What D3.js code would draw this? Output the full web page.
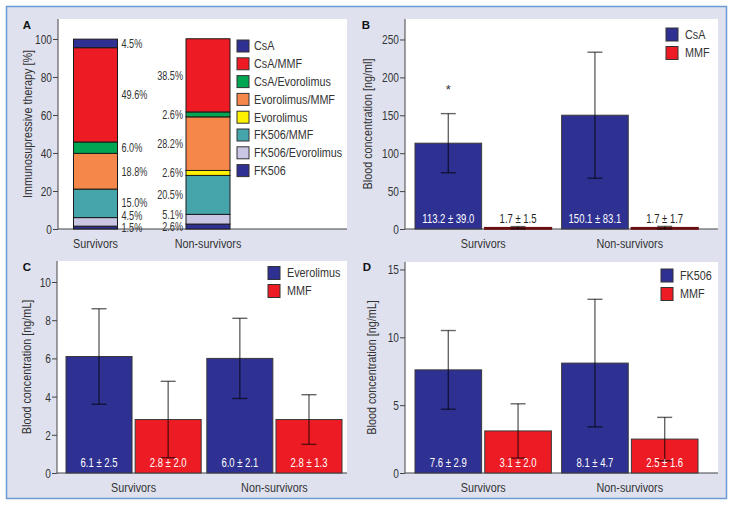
<!DOCTYPE html>
<html><head><meta charset="utf-8">
<script src="https://cdn.jsdelivr.net/npm/d3@7/dist/d3.min.js"></script>
<style>
body{margin:0;background:#fff;}
svg text{font-family:"Liberation Sans",Arial,sans-serif;fill:#333;}
</style></head>
<body><svg id="c" width="736" height="506"></svg>
<script>
// ---------- DATA ----------
const groups = ["Survivors", "Non-survivors"];
const therapies = ["CsA", "CsA/MMF", "CsA/Evorolimus", "Evorolimus/MMF", "Evorolimus", "FK506/MMF", "FK506/Evorolimus", "FK506"];
const therapyColors = ["#2e3192", "#ed1c24", "#00a651", "#f5874b", "#fff200", "#45a5ab", "#c9c7e3", "#2e3192"];
const survivorsPct = [4.5, 49.6, 6.0, 18.8, 0, 15.0, 4.5, 1.5];
const nonSurvivorsPct = [0, 38.5, 2.6, 28.2, 2.6, 20.5, 5.1, 2.6];
const ticksA = [0, 20, 40, 60, 80, 100];

const seriesB = ["CsA", "MMF"];
const csaMean = [113.2, 150.1], csaSD = [39.0, 83.1];
const mmfBMean = [1.7, 1.7], mmfBSD = [1.5, 1.7];
const starB = [["*", ""], ["", ""]];
const ticksB = [0, 50, 100, 150, 200, 250];

const seriesC = ["Everolimus", "MMF"];
const everoMean = [6.1, 6.0], everoSD = [2.5, 2.1];
const mmfCMean = [2.8, 2.8], mmfCSD = [2.0, 1.3];
const ticksC = [0, 2, 4, 6, 8, 10];

const seriesD = ["FK506", "MMF"];
const fkMean = [7.6, 8.1], fkSD = [2.9, 4.7];
const mmfDMean = [3.1, 2.5], mmfDSD = [2.0, 1.6];
const ticksD = [0, 5, 10, 15];

const barColors = ["#2e3192", "#ed1c24"];

// ---------- DRAW ----------
const svg = d3.select("#c");
svg.append("rect").attr("x", 6.5).attr("y", 6.5).attr("width", 720).attr("height", 492)
  .attr("fill", "#dfe1ef").attr("stroke", "#6c9bd3").attr("stroke-width", 1.5);

// condensed text helper
function T(x, y, str, size, anchor, sx, rot) {
  return svg.append("text")
    .attr("transform", `translate(${x},${y})${rot ? " rotate(" + rot + ")" : ""} scale(${sx || 0.8},1)`)
    .attr("text-anchor", anchor || "start").attr("dominant-baseline", "central")
    .attr("font-size", size).text(str);
}

function frame(p) {
  svg.append("rect").attr("x", p.x0).attr("y", p.y0).attr("width", p.x1 - p.x0).attr("height", p.y1 - p.y0).attr("fill", "#fff");
  const y = d3.scaleLinear().domain([0, p.max]).range([p.y1, p.y0]);
  const ax = svg.append("g").attr("transform", `translate(${p.x0},0)`)
    .call(d3.axisLeft(y).tickValues(p.ticks).tickSize(5).tickPadding(2).tickFormat(d3.format("d")));
  ax.select(".domain").remove();
  ax.selectAll(".tick line").attr("stroke", "#444");
  ax.selectAll(".tick text").attr("font-size", 13.5).attr("fill", "#333")
    .style("font-family", '"Liberation Sans",Arial,sans-serif')
    .attr("x", 0).attr("dy", null).attr("dominant-baseline", "central")
    .attr("transform", "translate(-6,0) scale(0.75,1)");
  svg.append("line").attr("x1", p.x0).attr("x2", p.x0).attr("y1", p.y0).attr("y2", p.y1).attr("stroke", "#444");
  svg.append("line").attr("x1", p.x0).attr("x2", p.x1).attr("y1", p.y1).attr("y2", p.y1).attr("stroke", "#444").attr("stroke-width", 1.2);
  svg.append("text").attr("x", p.lx).attr("y", p.ly).attr("font-size", 11.5).attr("font-weight", "bold")
    .attr("text-anchor", "middle").attr("dominant-baseline", "central").style("fill", "#111").text(p.letter);
  T(p.tx, (p.y0 + p.y1) / 2, p.title, 13.5, "middle", 0.8, -90);
  return y;
}

// ----- Panel A -----
(function () {
  const p = {x0: 58, x1: 347, y0: 19, y1: 229, max: 110.5, ticks: ticksA, letter: "A", lx: 27, ly: 25, tx: 28, title: "Immunosupressive therapy [%]"};
  const y = frame(p);
  const x = d3.scalePoint().domain(groups).range([95.5, 208]);
  const bw = 44;
  const data = [survivorsPct, nonSurvivorsPct];
  data.forEach((vals, gi) => {
    const cx = x(groups[gi]);
    let cum = 0;
    const segs = [];
    for (let i = therapies.length - 1; i >= 0; i--) {
      const v = vals[i];
      segs.push({i, v, lo: cum, hi: cum + v});
      cum += v;
    }
    segs.filter(s => s.v > 0).forEach(s => {
      svg.append("rect").attr("x", cx - bw / 2).attr("width", bw)
        .attr("y", y(s.hi)).attr("height", y(s.lo) - y(s.hi))
        .attr("fill", therapyColors[s.i]).attr("stroke", "#1a1a1a").attr("stroke-width", 1);
    });
    let prev = Infinity;
    segs.filter(s => s.v > 0).forEach(s => {
      let ly = y((s.lo + s.hi) / 2);
      if (ly > prev - 12.5) ly = prev - 12.5;
      prev = ly;
      T(gi === 0 ? cx + bw / 2 + 4 : cx - bw / 2 - 3, ly, s.v.toFixed(1) + "%", 12,
        gi === 0 ? "start" : "end", 0.76);
    });
    T(cx, p.y1 + 15, groups[gi], 13.5, "middle", 0.8);
  });
  therapies.forEach((t, i) => {
    const ry = 46 + i * 17.8;
    svg.append("rect").attr("x", 237).attr("y", ry - 6).attr("width", 12).attr("height", 12)
      .attr("fill", therapyColors[i]).attr("stroke", "#333");
    T(254, ry, t, 13.5, "start", 0.8);
  });
})();

// ----- Grouped bar panels -----
function grouped(p, series, means, sds, stars) {
  const y = frame(p);
  const x0 = d3.scaleBand().domain(groups).range([p.bx0, p.bx1]).paddingInner(p.gpad);
  const x1 = d3.scaleBand().domain(series).range([0, x0.bandwidth()]).paddingInner(0.045);
  groups.forEach((g, gi) => {
    series.forEach((s, si) => {
      const m = means[si][gi], sd = sds[si][gi];
      const bx = x0(g) + x1(s), w = x1.bandwidth();
      const top = y(m), h = p.y1 - top;
      svg.append("rect").attr("x", bx).attr("y", top).attr("width", w).attr("height", h)
        .attr("fill", barColors[si]).attr("stroke", h < 4 ? "#6b1010" : "#3a3a3a").attr("stroke-width", h < 4 ? 1.6 : 1);
      const cx = bx + w / 2;
      const eg = svg.append("g").attr("stroke", "#000").attr("stroke-opacity", 0.6).attr("stroke-width", 1.4);
      const lo = y(Math.max(0, m - sd)), hi = y(m + sd);
      eg.append("line").attr("x1", cx).attr("x2", cx).attr("y1", hi).attr("y2", lo);
      eg.append("line").attr("x1", cx - 7.5).attr("x2", cx + 7.5).attr("y1", hi).attr("y2", hi);
      eg.append("line").attr("x1", cx - 7.5).attr("x2", cx + 7.5).attr("y1", lo).attr("y2", lo);
      T(cx, p.y1 - 11, m.toFixed(1) + " \u00b1 " + sd.toFixed(1), 12.5, "middle", 0.76)
        .style("fill", h < 16 ? "#222" : "#fff");
      if (stars && stars[gi][si]) {
        T(cx, hi - 24, stars[gi][si], 13, "middle", 1);
      }
    });
    T(x0(g) + x0.bandwidth() / 2, p.y1 + 15, g, 13.5, "middle", 0.8);
  });
  series.forEach((s, i) => {
    const ry = p.legY + i * p.legDy;
    svg.append("rect").attr("x", p.legX).attr("y", ry - 6.5).attr("width", 12).attr("height", 13)
      .attr("fill", barColors[i]).attr("stroke", "#333");
    T(p.legX + 19, ry, s, 13.5, "start", 0.8);
  });
}

grouped({x0: 405, x1: 718, y0: 19, y1: 229, max: 277, ticks: ticksB, letter: "B", lx: 366, ly: 25, tx: 368,
  title: "Blood concentration [ng/ml]", bx0: 415, bx1: 698, gpad: 0.07, legX: 666, legY: 34.5, legDy: 18.5},
  seriesB, [csaMean, mmfBMean], [csaSD, mmfBSD], starB);

grouped({x0: 57, x1: 347, y0: 261, y1: 473, max: 11.1, ticks: ticksC, letter: "C", lx: 27, ly: 267, tx: 27,
  title: "Blood concentration [ng/mL]", bx0: 66, bx1: 342, gpad: 0.04, legX: 268, legY: 273, legDy: 18},
  seriesC, [everoMean, mmfCMean], [everoSD, mmfCSD], null);

grouped({x0: 405, x1: 718, y0: 262, y1: 473, max: 15.55, ticks: ticksD, letter: "D", lx: 367, ly: 267, tx: 372,
  title: "Blood concentration [ng/mL]", bx0: 415, bx1: 698, gpad: 0.07, legX: 661, legY: 275.5, legDy: 18.5},
  seriesD, [fkMean, mmfDMean], [fkSD, mmfDSD], null);
</script></body></html>
